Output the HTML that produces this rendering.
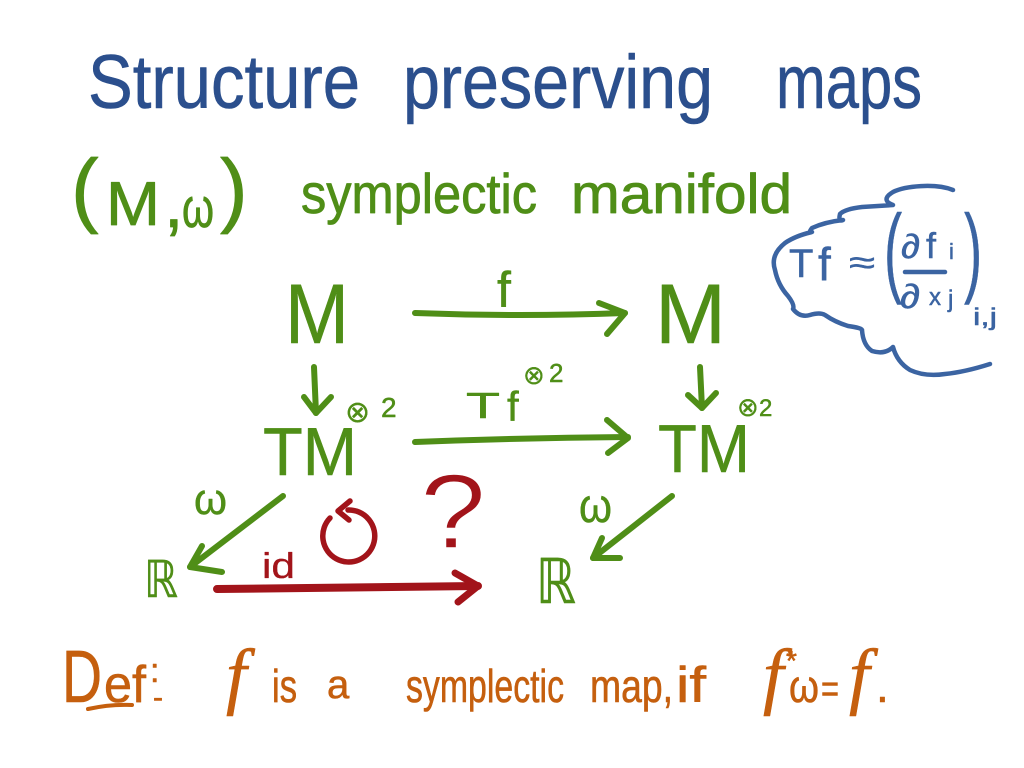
<!DOCTYPE html>
<html>
<head>
<meta charset="utf-8">
<style>
html,body{margin:0;padding:0;background:#ffffff;width:1024px;height:768px;overflow:hidden}
svg{display:block}
text{font-family:"Liberation Sans","DejaVu Sans",sans-serif}
.dj{font-family:"DejaVu Sans","Liberation Sans",sans-serif}
.sf{font-family:"Liberation Serif","DejaVu Serif",serif;font-style:italic}
</style>
</head>
<body>
<svg width="1024" height="768" viewBox="0 0 1024 768" xmlns="http://www.w3.org/2000/svg">
<rect width="1024" height="768" fill="#ffffff"/>

<!-- Title -->
<g fill="#2b4f8d" stroke="#2b4f8d" stroke-width="0.6" stroke-linejoin="round" font-size="76">
  <text x="88" y="108" textLength="272" lengthAdjust="spacingAndGlyphs">Structure</text>
  <text x="403" y="108" textLength="310" lengthAdjust="spacingAndGlyphs">preserving</text>
  <text x="776" y="108" textLength="146" lengthAdjust="spacingAndGlyphs">maps</text>
</g>

<!-- (M,ω) symplectic manifold -->
<g fill="#4f8e17" stroke="#4f8e17" stroke-width="0.8" stroke-linejoin="round">
  <text x="71" y="217" font-size="83">(</text>
  <text x="106" y="225" font-size="62" textLength="54" lengthAdjust="spacingAndGlyphs">M</text>
  <text x="164" y="227" font-size="70">,</text>
  <text x="182" y="227" font-size="56" textLength="32" lengthAdjust="spacingAndGlyphs">ω</text>
  <text x="220" y="217" font-size="83">)</text>
  <text x="301" y="213" font-size="56" textLength="236" lengthAdjust="spacingAndGlyphs">symplectic</text>
  <text x="571" y="213" font-size="56" textLength="221" lengthAdjust="spacingAndGlyphs">manifold</text>
</g>

<!-- Cloud -->
<g fill="none" stroke="#3b64a2" stroke-width="4.5" stroke-linecap="round" stroke-linejoin="round">
  <path d="M953,190 C935,183 905,186 893,192 Q880,200 893,205 L862,207 Q845,209 840,214 Q838,222 843,220 Q825,222 812,228 Q808,233 812,232 Q795,236 785,243 Q770,255 775,270 Q778,285 788,296 Q795,305 793,309 Q800,318 810,315 Q820,312 825,315 Q835,322 848,326 Q862,328 862,330 Q863,345 872,351 Q885,355 893,347 Q897,362 910,370 Q925,377 945,374 Q965,372 990,364"/>
  <line x1="905" y1="272" x2="945" y2="272"/>
</g>
<g fill="#3b64a2" stroke="#3b64a2" stroke-width="0.5" stroke-linejoin="round">
  <text x="789" y="277" font-size="40">T</text>
  <text x="818" y="280" font-size="46">f</text>
  <text x="849" y="274" font-size="34" textLength="26" lengthAdjust="spacingAndGlyphs">≈</text>
  <text transform="translate(884,284) scale(0.55,1)" font-size="99">(</text>
  <text transform="translate(964,284) scale(0.55,1)" font-size="99">)</text>
  <text x="901" y="258" font-size="34" textLength="19" lengthAdjust="spacingAndGlyphs">∂</text>
  <text x="926" y="258" font-size="36">f</text>
  <text x="949" y="259" font-size="22">i</text>
  <text x="900" y="308" font-size="34" textLength="20" lengthAdjust="spacingAndGlyphs">∂</text>
  <text x="929" y="305" font-size="24">x</text>
  <text x="948" y="307" font-size="24">j</text>
  <text x="973" y="325" font-size="24" textLength="24" lengthAdjust="spacingAndGlyphs">i,j</text>
</g>

<!-- Diagram green text -->
<g fill="#4f8e17" stroke="#4f8e17" stroke-width="0.5" stroke-linejoin="round">
  <text x="285" y="343" font-size="84" textLength="64" lengthAdjust="spacingAndGlyphs">M</text>
  <text x="655" y="343" font-size="84" textLength="71" lengthAdjust="spacingAndGlyphs">M</text>
  <text x="497" y="307" font-size="50">f</text>
  <text x="263" y="475" font-size="68" textLength="94" lengthAdjust="spacingAndGlyphs">TM</text>
  <text x="658" y="472" font-size="68" textLength="92" lengthAdjust="spacingAndGlyphs">TM</text>
  <text class="dj" x="345" y="422" font-size="30" stroke-width="0.3">⊗</text>
  <text x="381" y="417" font-size="28">2</text>
  <text class="dj" x="737" y="416" font-size="26" stroke-width="0.3">⊗</text>
  <text x="759" y="416" font-size="24">2</text>
  <text x="466" y="418" font-size="36" textLength="34" lengthAdjust="spacingAndGlyphs">T</text>
  <text x="507" y="421" font-size="42">f</text>
  <text class="dj" x="523" y="384" font-size="26" stroke-width="0.3">⊗</text>
  <text x="549" y="382" font-size="26">2</text>
  <text x="194" y="514" font-size="44" textLength="33" lengthAdjust="spacingAndGlyphs">ω</text>
  <text x="579" y="522" font-size="48" textLength="33" lengthAdjust="spacingAndGlyphs">ω</text>
  <text class="dj" x="144" y="597" font-size="51" textLength="34" lengthAdjust="spacingAndGlyphs">ℝ</text>
  <text class="dj" x="536" y="603" font-size="62" textLength="40" lengthAdjust="spacingAndGlyphs">ℝ</text>
</g>

<!-- Diagram green arrows -->
<g fill="none" stroke="#4f8e17" stroke-width="6" stroke-linecap="round" stroke-linejoin="round">
  <path d="M415,313 Q520,317 625,313"/>
  <path d="M599,303 L625,313 L607,334"/>
  <path d="M314,367 L316,413"/>
  <path d="M304,397 L316,413 L331,397"/>
  <path d="M700,367 L702,408"/>
  <path d="M688,395 L702,408 L716,393"/>
  <path d="M415,442 Q520,438 628,437"/>
  <path d="M607,420 L628,438 L608,453"/>
  <path d="M283,496 L190,567"/>
  <path d="M202,546 L190,567 L222,572"/>
  <path d="M672,496 L593,558"/>
  <path d="M602,538 L593,558 L620,558"/>
</g>

<!-- Red parts -->
<g fill="#a2141a" stroke-linejoin="round">
  <text x="262" y="578" font-size="36" textLength="33" lengthAdjust="spacingAndGlyphs" stroke="#a2141a" stroke-width="0.3">id</text>
  <text x="420" y="548" font-size="106" textLength="66" lengthAdjust="spacingAndGlyphs" stroke="#ffffff" stroke-width="1.5">?</text>
</g>
<g fill="none" stroke="#a2141a" stroke-linecap="round" stroke-linejoin="round">
  <path d="M217,589 L478,586" stroke-width="8"/>
  <path d="M455,573 L478,586 L458,602" stroke-width="7"/>
  <path d="M330,518 A26,26 0 1 0 348,510" stroke-width="5.5"/>
  <path d="M350,501 L338,511 L349,520" stroke-width="5.5"/>
</g>

<!-- Footer definition -->
<g fill="#c55f0e" stroke="#c55f0e" stroke-width="0.6" stroke-linejoin="round">
  <text x="62" y="702" font-size="74" textLength="40" lengthAdjust="spacingAndGlyphs">D</text>
  <text x="104" y="702" font-size="52" textLength="42" lengthAdjust="spacingAndGlyphs">ef</text>
  <text x="150" y="682" font-size="34">:</text>
  <text x="153" y="707" font-size="30">-</text>
  <text class="sf" x="226" y="700" font-size="74">f</text>
  <text x="272" y="702" font-size="46" textLength="25" lengthAdjust="spacingAndGlyphs">is</text>
  <text x="327" y="698" font-size="40">a</text>
  <text x="406" y="702" font-size="46" textLength="158" lengthAdjust="spacingAndGlyphs">symplectic</text>
  <text x="590" y="702" font-size="46" textLength="83" lengthAdjust="spacingAndGlyphs">map,</text>
  <text x="676" y="702" font-size="50" textLength="30" lengthAdjust="spacingAndGlyphs">if</text>
  <text class="sf" x="763" y="700" font-size="74">f</text>
  <text x="786" y="670" font-size="28">*</text>
  <text x="789" y="702" font-size="46" textLength="30" lengthAdjust="spacingAndGlyphs">ω</text>
  <text x="821" y="702" font-size="40" textLength="18" lengthAdjust="spacingAndGlyphs">=</text>
  <text class="sf" x="849" y="700" font-size="74">f</text>
  <text x="876" y="702" font-size="46">.</text>
</g>
<path d="M88,709 Q110,704 132,705" fill="none" stroke="#c55f0e" stroke-width="4" stroke-linecap="round"/>

</svg>
</body>
</html>
